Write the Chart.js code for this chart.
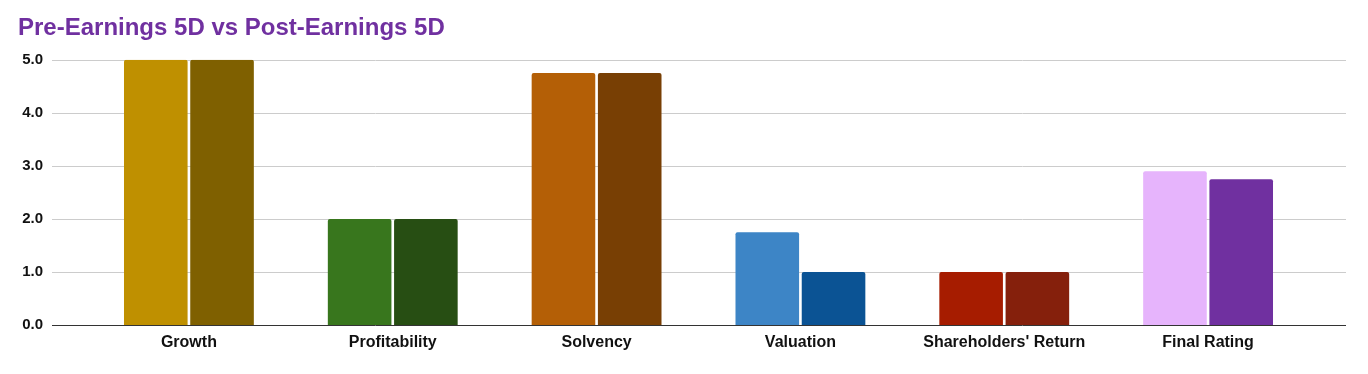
<!DOCTYPE html>
<html>
<head>
<meta charset="utf-8">
<script src="https://cdn.jsdelivr.net/npm/chart.js@4"></script>
<style>
  html, body { margin: 0; padding: 0; background: #fff; }
  #wrap { width: 1368px; height: 374px; }
</style>
</head>
<body>
<div id="wrap"><canvas id="myChart" width="1368" height="374"></canvas></div>
<script>
const categories = ['Growth', 'Profitability', 'Solvency', 'Valuation', "Shareholders' Return", 'Final Rating'];
const preEarnings = [5.0, 2.0, 4.75, 1.75, 1.0, 2.9];
const postEarnings = [5.0, 2.0, 4.75, 1.0, 1.0, 2.75];
const yTicks = [0, 1, 2, 3, 4, 5];

const preColors = ['#bf9000', '#38761d', '#b45f06', '#3d85c6', '#a61c00', '#e6b4fc'];
const postColors = ['#7f6000', '#274e13', '#783f04', '#0b5394', '#85200c', '#7030a0'];

const FONT = 'Arial, "Liberation Sans", sans-serif';

// gridlines in the original run wider than the category band
const wideGrid = {
  id: 'wideGrid',
  beforeDatasetsDraw(chart) {
    const ctx = chart.ctx;
    const y = chart.scales.y;
    ctx.save();
    yTicks.forEach(v => {
      const py = Math.round(y.getPixelForValue(v)) + 0.5;
      ctx.beginPath();
      ctx.strokeStyle = v === 0 ? '#333333' : '#cccccc';
      ctx.lineWidth = 1;
      ctx.moveTo(52, py);
      ctx.lineTo(1346, py);
      ctx.stroke();
    });
    ctx.restore();
  }
};

new Chart(document.getElementById('myChart').getContext('2d'), {
  type: 'bar',
  data: {
    labels: categories,
    datasets: [
      {
        label: 'Pre-Earnings 5D',
        data: preEarnings,
        backgroundColor: preColors,
        borderWidth: 0,
        borderRadius: 2,
        borderSkipped: 'bottom',
        categoryPercentage: 0.65,
        barPercentage: 0.96,
      },
      {
        label: 'Post-Earnings 5D',
        data: postEarnings,
        backgroundColor: postColors,
        borderWidth: 0,
        borderRadius: 2,
        borderSkipped: 'bottom',
        categoryPercentage: 0.65,
        barPercentage: 0.96,
      },
    ],
  },
  options: {
    responsive: false,
    animation: false,
    layout: { padding: { left: 18, right: 58, top: 0, bottom: 0 } },
    plugins: {
      legend: { display: false },
      tooltip: { enabled: false },
      title: {
        display: true,
        text: 'Pre-Earnings 5D vs Post-Earnings 5D',
        align: 'start',
        color: '#7030a0',
        font: { family: FONT, size: 24, weight: 'bold' },
        padding: { top: 14, bottom: 17 },
      },
    },
    scales: {
      x: {
        grid: { display: false },
        border: { display: false },
        ticks: {
          color: '#111111',
          font: { family: FONT, size: 16, weight: 'bold' },
          padding: 0,
          maxRotation: 0,
        },
        afterFit(scale) { scale.height = 49; },
      },
      y: {
        min: 0,
        max: 5,
        grid: { display: false },
        border: { display: false },
        afterBuildTicks(scale) { scale.ticks = yTicks.map(v => ({ value: v })); },
        ticks: {
          color: '#111111',
          font: { family: FONT, size: 15, weight: 'bold' },
          padding: 36,
          callback: v => Number(v).toFixed(1),
        },
        afterFit(scale) { scale.width = 69; },
      },
    },
  },
  plugins: [wideGrid],
});
</script>
</body>
</html>
